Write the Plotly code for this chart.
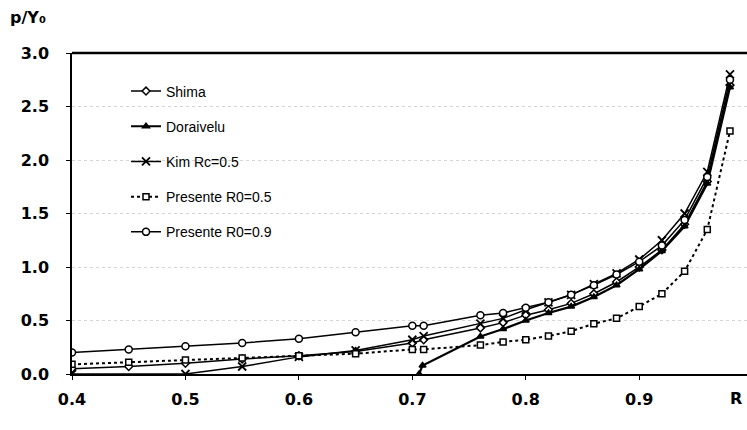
import plotly.graph_objects as go

# Data
shima_x = [0.40, 0.45, 0.50, 0.55, 0.60, 0.65, 0.70, 0.71, 0.76, 0.78, 0.80, 0.82, 0.84, 0.86, 0.88, 0.90, 0.92, 0.94, 0.96, 0.98]
shima_y = [0.05, 0.07, 0.10, 0.14, 0.17, 0.21, 0.29, 0.32, 0.43, 0.48, 0.55, 0.60, 0.66, 0.75, 0.86, 1.00, 1.16, 1.40, 1.80, 2.70]

dora_x = [0.706, 0.709, 0.76, 0.78, 0.80, 0.82, 0.84, 0.86, 0.88, 0.90, 0.92, 0.94, 0.96, 0.98]
dora_y = [0.00, 0.08, 0.35, 0.42, 0.50, 0.57, 0.63, 0.72, 0.83, 0.98, 1.15, 1.38, 1.78, 2.68]

kim_x = [0.40, 0.50, 0.55, 0.60, 0.65, 0.70, 0.71, 0.76, 0.78, 0.80, 0.82, 0.84, 0.86, 0.88, 0.90, 0.92, 0.94, 0.96, 0.98]
kim_y = [0.00, 0.00, 0.07, 0.16, 0.22, 0.32, 0.355, 0.47, 0.52, 0.60, 0.67, 0.74, 0.84, 0.94, 1.07, 1.25, 1.50, 1.89, 2.80]

p05_x = [0.40, 0.45, 0.50, 0.55, 0.60, 0.65, 0.70, 0.71, 0.76, 0.78, 0.80, 0.82, 0.84, 0.86, 0.88, 0.90, 0.92, 0.94, 0.96, 0.98]
p05_y = [0.09, 0.11, 0.13, 0.15, 0.17, 0.19, 0.23, 0.23, 0.27, 0.30, 0.32, 0.355, 0.40, 0.47, 0.52, 0.63, 0.75, 0.96, 1.35, 2.27]

p09_x = [0.40, 0.45, 0.50, 0.55, 0.60, 0.65, 0.70, 0.71, 0.76, 0.78, 0.80, 0.82, 0.84, 0.86, 0.88, 0.90, 0.92, 0.94, 0.96, 0.98]
p09_y = [0.20, 0.23, 0.26, 0.29, 0.33, 0.39, 0.45, 0.45, 0.55, 0.57, 0.62, 0.67, 0.74, 0.83, 0.93, 1.05, 1.20, 1.44, 1.84, 2.75]

x_ticks = [0.4, 0.5, 0.6, 0.7, 0.8, 0.9]
x_tick_labels = ["0.4", "0.5", "0.6", "0.7", "0.8", "0.9"]
y_ticks = [0.0, 0.5, 1.0, 1.5, 2.0, 2.5, 3.0]
y_tick_labels = ["0.0", "0.5", "1.0", "1.5", "2.0", "2.5", "3.0"]

fig = go.Figure()

def add(x, y, name, symbol, dash="solid", width=1.5, size=6, group="", fill="white", lw=1.5):
    fig.add_trace(go.Scatter(
        x=x, y=y, name=name, mode="lines+markers",
        line=dict(color="black", width=width, dash=dash),
        marker=dict(symbol=symbol, size=size, color=fill,
                    line=dict(color="black", width=lw)),
        legendgroup=group,
    ))

add(shima_x, shima_y, "Shima", "diamond", width=1.5, size=6, group="a")
add(dora_x, dora_y, "Doraivelu", "triangle-up", width=2.2, size=6, group="b", fill="black")
add(kim_x, kim_y, "Kim Rc=0.5", "x-thin", width=1.5, size=8, group="c", lw=1.8)
add(p05_x, p05_y, "Presente R0=0.5", "square", dash="dot", width=2, size=6, group="d")
add(p09_x, p09_y, "Presente R0=0.9", "circle", width=1.5, size=7, group="e")

tick_font = dict(family="DejaVu Sans", size=16, color="black", weight="bold")

fig.update_layout(
    width=747, height=430,
    margin=dict(l=72, r=0, t=53, b=56),
    paper_bgcolor="white", plot_bgcolor="white",
    showlegend=True,
    legend=dict(
        x=0.08, y=0.93, xanchor="left", yanchor="top",
        font=dict(family="Liberation Sans Narrow, Liberation Sans, Arial", size=14, color="black"),
        bgcolor="rgba(0,0,0,0)", borderwidth=0,
        traceorder="grouped", tracegroupgap=14,
    ),
    xaxis=dict(
        range=[0.4, 0.995], tickvals=x_ticks, ticktext=x_tick_labels,
        showgrid=False, zeroline=False,
        showline=True, linecolor="black", linewidth=1.5,
        ticks="outside", ticklen=4, tickcolor="black",
        tickfont=tick_font, ticklabelstandoff=6,
    ),
    yaxis=dict(
        range=[0, 3.0], tickvals=y_ticks, ticktext=y_tick_labels,
        showgrid=True, gridcolor="#d4d4d4", griddash="dot", gridwidth=1,
        zeroline=False,
        showline=True, linecolor="black", linewidth=1.5, mirror=False,
        ticks="outside", ticklen=4, tickcolor="black",
        tickfont=tick_font, ticklabelstandoff=14,
    ),
    shapes=[dict(type="line", xref="paper", yref="paper", x0=0, x1=1, y0=1, y1=1,
                 line=dict(color="black", width=2.5))],
    annotations=[
        dict(text="<b>p/Y₀</b>", xref="paper", yref="paper", x=-0.095, y=1.075,
             xanchor="left", yanchor="bottom", showarrow=False,
             font=dict(family="DejaVu Sans", size=16, color="black")),
        dict(text="<b>R</b>", xref="paper", yref="paper", x=0.995, y=-0.04,
             xanchor="right", yanchor="top", showarrow=False,
             font=dict(family="DejaVu Sans", size=16, color="black")),
    ],
)

fig.write_html("out.html", config={"displayModeBar": False},
               post_script="document.body.style.margin='0';document.body.style.overflow='hidden';")
